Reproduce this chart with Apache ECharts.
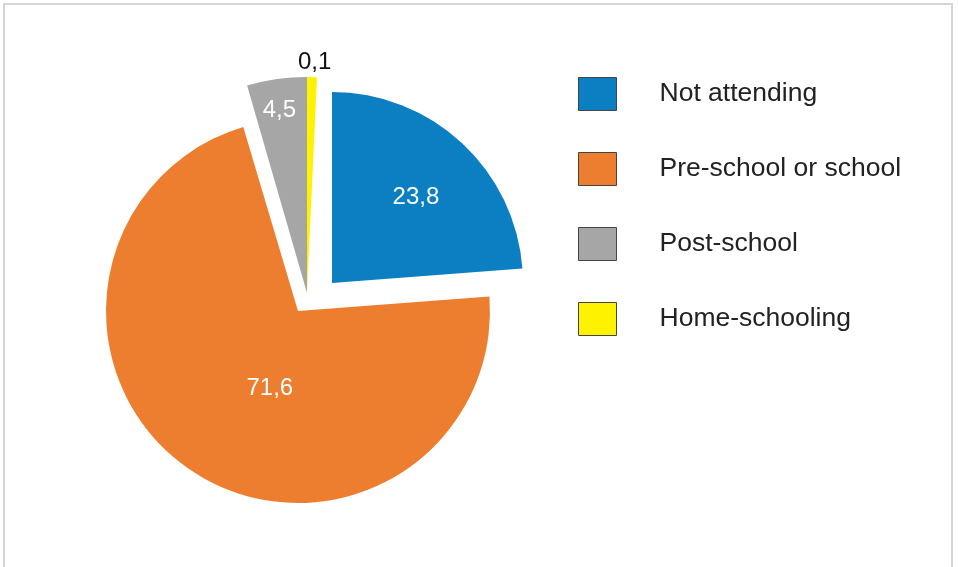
<!DOCTYPE html>
<html>
<head>
<meta charset="utf-8">
<title>Attendance</title>
<script src="https://cdn.jsdelivr.net/npm/echarts@6/dist/echarts.min.js"></script>
<style>
  html, body {
    margin: 0;
    padding: 0;
    background: #fff;
    overflow: hidden;
  }
  #frame {
    position: absolute;
    left: 3px;
    top: 3px;
    width: 946px;
    height: 600px;
    border: 2px solid #d6d6d6;
  }
  #chart {
    position: absolute;
    left: 0;
    top: 0;
    width: 958px;
    height: 567px;
  }
</style>
</head>
<body>
<div id="frame"></div>
<div id="chart"></div>
<script>
// data
const categories = ['Not attending', 'Pre-school or school', 'Post-school', 'Home-schooling']
const shares = [23.8, 71.6, 4.5, 0.1]

// styles
const colors = ['#0b7fc1', '#ee7e2f', '#a6a6a6', '#fff200']
const labelColors = ['#fff', '#fff', '#fff', '#111']
// nudge of each value label from its default inside spot
const labelShift = [[17, -13], [28, -4], [-12, -73], [5, -120]]
const font = 'Liberation Sans, Arial, sans-serif'

// one pie per exploded piece; hidden slices keep the angles right
function pieData (show) {
  return categories.map((name, i) => {
    const on = show.indexOf(i) > -1
    return {
      name: name,
      value: shares[i],
      itemStyle: { color: on ? colors[i] : 'transparent' },
      label: { show: on, color: labelColors[i] }
    }
  })
}

function piece (show, center, radius, extra) {
  return Object.assign({
    type: 'pie',
    silent: true,
    center: center,
    radius: radius,
    startAngle: 90,
    clockwise: true,
    avoidLabelOverlap: false,
    emphasis: { disabled: true },
    label: {
      position: 'inside',
      fontFamily: font,
      fontSize: 24,
      formatter: p => String(p.value).replace('.', ',')
    },
    labelLine: { show: false },
    labelLayout: p => ({ dx: labelShift[p.dataIndex][0], dy: labelShift[p.dataIndex][1] }),
    data: pieData(show)
  }, extra || {})
}

const myChart = echarts.init(document.getElementById('chart'))
const option = {
  animation: false,
  legend: {
    orient: 'vertical',
    left: 578,
    top: 77,
    padding: 0,
    icon: 'rect',
    itemWidth: 38,
    itemHeight: 33,
    itemGap: 41,
    selectedMode: false,
    textStyle: {
      fontFamily: font,
      fontSize: 26.5,
      color: '#222',
      padding: [0, 0, 0, 38]
    },
    data: categories.map((name, i) => ({
      name: name,
      itemStyle: { color: colors[i], borderColor: '#444', borderWidth: 1 }
    }))
  },
  series: [
    piece([0], [332, 283], 191),
    piece([1], [298, 311], 192),
    // the tiny home-schooling slice is drawn wider, as in the source
    piece([2, 3], [307, 293], 216, { startAngle: 87.35, minAngle: 2.65 })
  ]
}
myChart.setOption(option)
window.addEventListener('resize', function () {
  myChart.resize()
})
</script>
</body>
</html>
